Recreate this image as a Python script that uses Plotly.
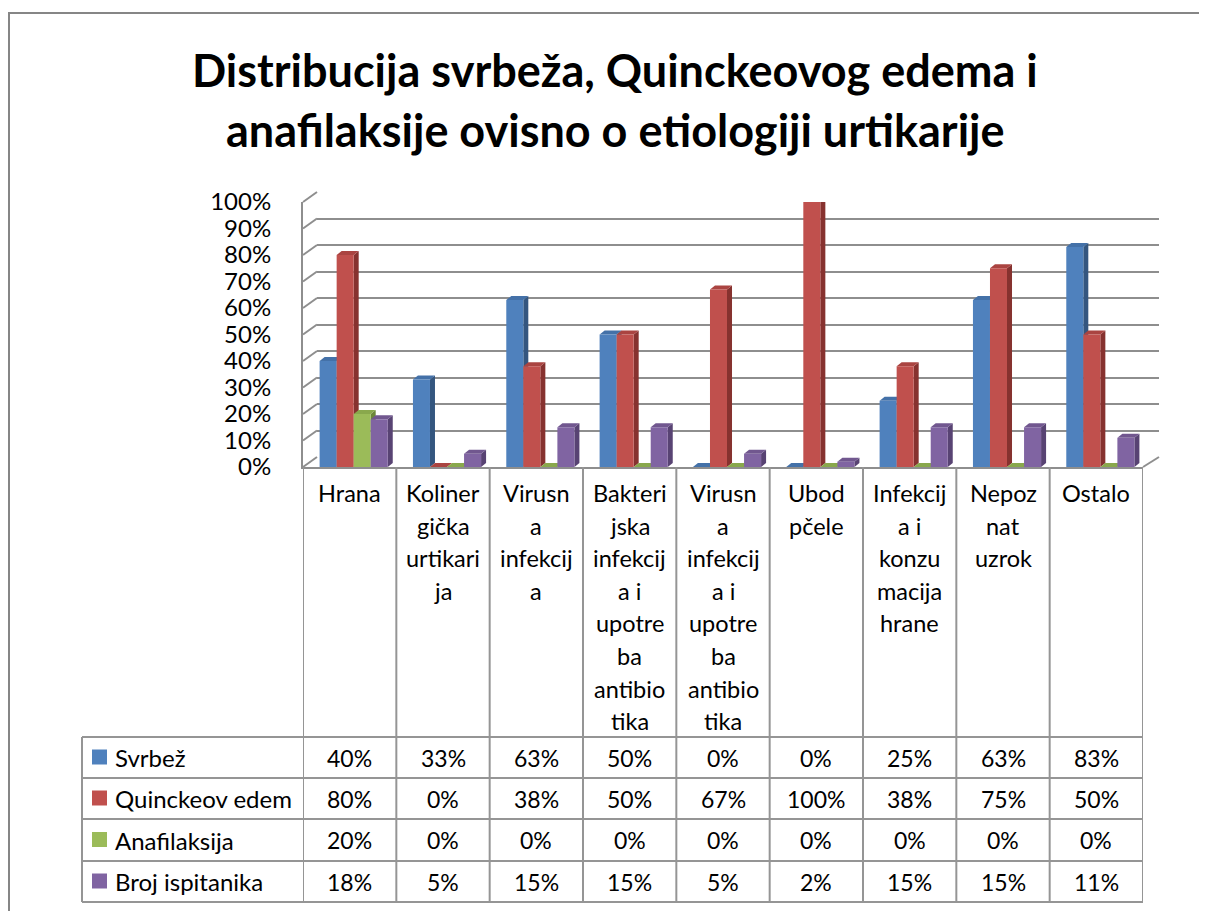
import plotly.graph_objects as go

# ---------------- data ----------------
categories = [
    "Hrana",
    "Koliner<br>gička<br>urtikari<br>ja",
    "Virusn<br>a<br>infekcij<br>a",
    "Bakteri<br>jska<br>infekcij<br>a i<br>upotre<br>ba<br>antibio<br>tika",
    "Virusn<br>a<br>infekcij<br>a i<br>upotre<br>ba<br>antibio<br>tika",
    "Ubod<br>pčele",
    "Infekcij<br>a i<br>konzu<br>macija<br>hrane",
    "Nepoz<br>nat<br>uzrok",
    "Ostalo",
]
series_names = ["Svrbež", "Quinckeov edem", "Anafilaksija", "Broj ispitanika"]
svrbez = [40, 33, 63, 50, 0, 0, 25, 63, 83]
quinckeov_edem = [80, 0, 38, 50, 67, 100, 38, 75, 50]
anafilaksija = [20, 0, 0, 0, 0, 0, 0, 0, 0]
broj_ispitanika = [18, 5, 15, 15, 5, 2, 15, 15, 11]
y_tick_values = [0, 10, 20, 30, 40, 50, 60, 70, 80, 90, 100]
y_tick_labels = ["0%", "10%", "20%", "30%", "40%", "50%", "60%", "70%", "80%", "90%", "100%"]
title_lines = ["Distribucija svrbeža, Quinckeovog edema i",
               "anafilaksije ovisno o etiologiji urtikarije"]

series_values = [svrbez, quinckeov_edem, anafilaksija, broj_ispitanika]
front_colors = ["#4F81BD", "#C0504D", "#9BBB59", "#8064A2"]
top_colors = ["#4471A8", "#AA4441", "#89A84C", "#71578F"]
side_colors = ["#34567F", "#86322F", "#6C8738", "#584373"]

# ---------------- geometry helpers ----------------
W, H = 1207, 911
OFF = 8  # page body margin
def px(x):
    return (x - OFF) / W
def py(y):
    return 1 - (y - OFF) / H

FONT = "Lato"
GRID = "#8E8E8E"
n = len(categories)
m = len(series_values)

fig = go.Figure()

# Back wall (gridlines) – subplot xy
fig.add_trace(go.Scatter(x=[None], y=[None], xaxis="x", yaxis="y", showlegend=False, hoverinfo="skip"))

# Front plane bars – subplot x2y2
bar_w = 0.1825
shift = 0.043
for s, (name, vals, col) in enumerate(zip(series_names, series_values, front_colors)):
    fig.add_trace(go.Bar(
        x=list(range(n)), y=vals, name=name, marker=dict(color=col, line=dict(width=0)),
        width=bar_w, offset=(s - m / 2) * bar_w + shift,
        xaxis="x2", yaxis="y2", showlegend=False,
        hovertemplate="%{y}%<extra>" + name + "</extra>",
    ))

shapes = []
# 3D faces of bars (derived from the same data)
dx = 5 / (840 / n)
dy = 4 / 2.65
for s, vals in enumerate(series_values):
    for c, v in enumerate(vals):
        x0 = c + (s - m / 2) * bar_w + shift
        x1 = x0 + bar_w
        side = f"M {x1},0 L {x1+dx},{dy} L {x1+dx},{v+dy} L {x1},{v} Z"
        top = f"M {x0},{v} L {x0+dx},{v+dy} L {x1+dx},{v+dy} L {x1},{v} Z"
        for path, colr in ((side, side_colors[s]), (top, top_colors[s])):
            shapes.append(dict(type="path", path=path, xref="x2", yref="y2",
                               fillcolor=colr, line=dict(width=0), layer="between"))

# Left wall gridline diagonals and floor
for t in y_tick_values:
    yf = 467 - 2.65 * t
    yb = 457 - 2.65 * t
    shapes.append(dict(type="line", xref="paper", yref="paper",
                       x0=px(303), y0=py(yf), x1=px(317), y1=py(yb),
                       line=dict(color=GRID, width=2), layer="below"))
shapes.append(dict(type="line", xref="paper", yref="paper",
                   x0=px(1143), y0=py(467), x1=px(1159), y1=py(457),
                   line=dict(color=GRID, width=2), layer="below"))

# Outer chart border
shapes.append(dict(type="rect", xref="paper", yref="paper",
                   x0=px(9), y0=py(13), x1=px(1225), y1=py(940),
                   line=dict(color="#868686", width=2), fillcolor="rgba(0,0,0,0)", layer="below"))

# Data table lines
TL = "#959595"
row_edges = [737, 778, 819, 861, 902]
for c in range(n + 1):
    shapes.append(dict(type="line", xref="x2", yref="paper",
                       x0=c - 0.5, x1=c - 0.5, y0=py(467), y1=py(row_edges[-1]),
                       line=dict(color=TL, width=2)))
for yy in row_edges:
    shapes.append(dict(type="line", xref="paper", yref="paper",
                       x0=px(82), x1=px(1143), y0=py(yy), y1=py(yy),
                       line=dict(color=TL, width=2)))
shapes.append(dict(type="line", xref="paper", yref="paper",
                   x0=px(82), x1=px(82), y0=py(row_edges[0]), y1=py(row_edges[-1]),
                   line=dict(color=TL, width=2)))

annotations = []
# Title
for i, line in enumerate(title_lines):
    annotations.append(dict(text=f"<b>{line}</b>", xref="paper", yref="paper",
                            x=px(615), y=py(70 + 60 * i), xanchor="center", yanchor="middle",
                            showarrow=False, font=dict(family=FONT, size=45, color="black")))

# Category headers
for c, cat in enumerate(categories):
    for j, part in enumerate(cat.split("<br>")):
        annotations.append(dict(text=part, xref="x2", yref="paper", x=c, y=py(493 + 32.6 * j),
                                xanchor="center", yanchor="middle", showarrow=False,
                                font=dict(family=FONT, size=23.5, color="black")))

# Table rows
for r, (name, vals, col) in enumerate(zip(series_names, series_values, front_colors)):
    yc = (row_edges[r] + row_edges[r + 1]) / 2
    shapes.append(dict(type="rect", xref="paper", yref="paper",
                       x0=px(92), x1=px(107), y0=py(yc - 8), y1=py(yc + 7),
                       fillcolor=col, line=dict(width=0)))
    annotations.append(dict(text=name, xref="paper", yref="paper", x=px(113), y=py(yc),
                            xanchor="left", yanchor="middle", showarrow=False,
                            font=dict(family=FONT, size=24, color="black")))
    for c, v in enumerate(vals):
        annotations.append(dict(text=f"{v}%", xref="x2", yref="paper", x=c, y=py(yc),
                                xanchor="center", yanchor="middle", showarrow=False,
                                font=dict(family=FONT, size=23, color="black")))

fig.update_layout(
    width=W, height=H,
    margin=dict(l=0, r=0, t=0, b=0, pad=0, autoexpand=False),
    paper_bgcolor="white", plot_bgcolor="rgba(0,0,0,0)",
    barmode="group", bargap=0.27, bargroupgap=0,
    showlegend=False,
    xaxis=dict(domain=[px(317), px(1159)], range=[-0.5, n - 0.5], showgrid=False,
               showticklabels=False, zeroline=False, showline=False, fixedrange=True,
               automargin=False),
    yaxis=dict(domain=[py(457), py(192)], range=[0, 100], tickvals=y_tick_values,
               showgrid=True, gridcolor=GRID, gridwidth=2, showticklabels=False,
               zeroline=False, showline=False, fixedrange=True, automargin=False),
    xaxis2=dict(domain=[px(303), px(1143)], range=[-0.5, n - 0.5], anchor="y2",
                showgrid=False, showticklabels=False, zeroline=False,
                showline=True, linecolor=GRID, linewidth=2, fixedrange=True,
                automargin=False),
    yaxis2=dict(domain=[py(467), py(202)], range=[0, 100], anchor="x2",
                tickvals=y_tick_values, ticktext=y_tick_labels, showgrid=False,
                zeroline=False, showline=True, linecolor=GRID, linewidth=2,
                ticks="", ticklabelstandoff=25, automargin=False,
                tickfont=dict(family=FONT, size=24, color="black"), fixedrange=True),
    shapes=shapes,
    annotations=annotations,
)

fig.write_html("out.html")
